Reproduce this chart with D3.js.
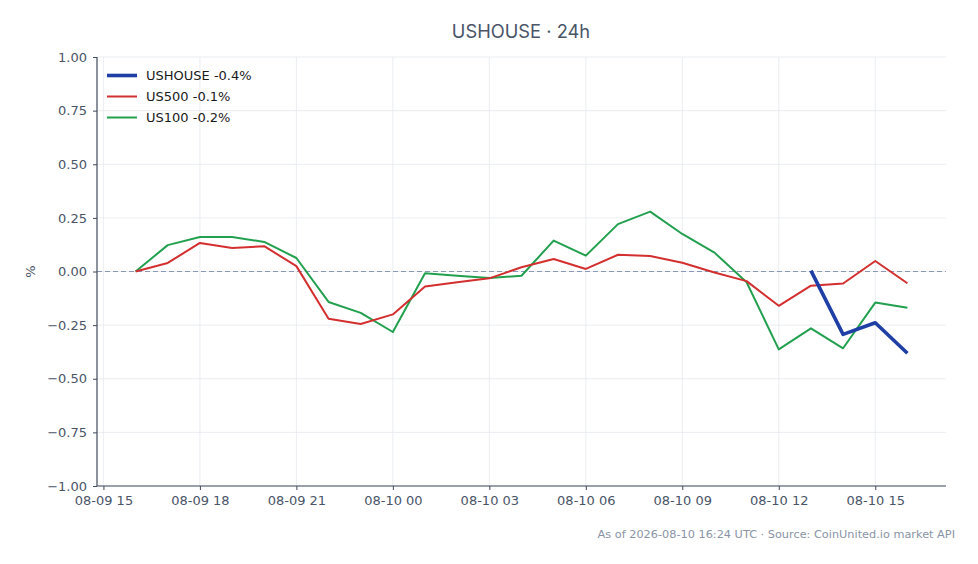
<!DOCTYPE html>
<html>
<head>
<meta charset="utf-8">
<script src="https://cdn.jsdelivr.net/npm/d3@7"></script>
<style>
  body { margin: 0; background: #fff; }
  svg { display: block; font-family: "DejaVu Sans", sans-serif; }
</style>
</head>
<body>
<svg id="chart" width="978" height="564"></svg>
<script>
// hourly points, UTC
const times = [
  "2026-08-09T16:00Z", "2026-08-09T17:00Z", "2026-08-09T18:00Z", "2026-08-09T19:00Z",
  "2026-08-09T20:00Z", "2026-08-09T21:00Z", "2026-08-09T22:00Z", "2026-08-09T23:00Z",
  "2026-08-10T00:00Z", "2026-08-10T01:00Z", "2026-08-10T02:00Z", "2026-08-10T03:00Z",
  "2026-08-10T04:00Z", "2026-08-10T05:00Z", "2026-08-10T06:00Z", "2026-08-10T07:00Z",
  "2026-08-10T08:00Z", "2026-08-10T09:00Z", "2026-08-10T10:00Z", "2026-08-10T11:00Z",
  "2026-08-10T12:00Z", "2026-08-10T13:00Z", "2026-08-10T14:00Z", "2026-08-10T15:00Z",
  "2026-08-10T16:00Z"];

const us500 = [0, 0.04, 0.133, 0.11, 0.118, 0.025, -0.22, -0.245, -0.2, -0.07, -0.05, -0.032,
  0.02, 0.058, 0.012, 0.078, 0.072, 0.041, -0.005, -0.045, -0.16, -0.066, -0.056, 0.049, -0.055];

const us100 = [0, 0.123, 0.161, 0.161, 0.138, 0.063, -0.142, -0.193, -0.282, -0.008, -0.02, -0.03,
  -0.02, 0.144, 0.074, 0.221, 0.279, 0.175, 0.088, -0.05, -0.363, -0.265, -0.358, -0.145, -0.169];

const ushouse = [null, null, null, null, null, null, null, null, null, null, null, null,
  null, null, null, null, null, null, null, null, null, 0.004, -0.293, -0.239, -0.381];

const series = [
  {name: "USHOUSE -0.4%", values: ushouse, color: "#1f3fa6", width: 3.6},
  {name: "US500 -0.1%", values: us500, color: "#d32f2f", width: 2},
  {name: "US100 -0.2%", values: us100, color: "#22a04f", width: 2}
];

const yTicks = [-1, -0.75, -0.5, -0.25, 0, 0.25, 0.5, 0.75, 1];

const dates = times.map(t => new Date(t));
const plotLeft = 97, plotRight = 946, plotTop = 57, plotBottom = 486;

const svg = d3.select("#chart");

// 5% padding on both ends of the time range
const [t0, t1] = d3.extent(dates);
const pad = (t1 - t0) * 0.05;
const x = d3.scaleUtc()
  .domain([new Date(+t0 - pad), new Date(+t1 + pad)])
  .range([plotLeft, plotRight]);

const y = d3.scaleLinear()
  .domain([-1, 1])
  .range([plotBottom, plotTop]);

const xTicks = x.ticks(d3.utcHour.every(3));
const fmtX = d3.utcFormat("%m-%d %H");

// grid
svg.append("g")
  .selectAll("line")
  .data(xTicks)
  .join("line")
    .attr("x1", d => x(d)).attr("x2", d => x(d))
    .attr("y1", plotTop).attr("y2", plotBottom)
    .attr("stroke", "#e6e9ee").attr("stroke-width", 0.8);

svg.append("g")
  .selectAll("line")
  .data(yTicks)
  .join("line")
    .attr("x1", plotLeft).attr("x2", plotRight)
    .attr("y1", d => y(d)).attr("y2", d => y(d))
    .attr("stroke", "#e6e9ee").attr("stroke-width", 0.8);

// zero reference
svg.append("line")
  .attr("x1", plotLeft).attr("x2", plotRight)
  .attr("y1", y(0)).attr("y2", y(0))
  .attr("stroke", "#8a99b8")
  .attr("stroke-width", 1)
  .attr("stroke-dasharray", "5,3");

// axes
const axisColor = "#3f4a5a";
const xAxis = svg.append("g")
  .attr("transform", `translate(0,${plotBottom})`)
  .call(d3.axisBottom(x).tickValues(xTicks).tickFormat(fmtX).tickSize(4).tickPadding(6));

const yAxis = svg.append("g")
  .attr("transform", `translate(${plotLeft},0)`)
  .call(d3.axisLeft(y).tickValues(yTicks).tickFormat(d3.format(".2f")).tickSize(4).tickPadding(6));

[xAxis, yAxis].forEach(a => {
  a.select(".domain").attr("stroke", axisColor).attr("stroke-width", 1.2);
  a.selectAll(".tick line").attr("stroke", axisColor).attr("stroke-width", 1);
  a.selectAll(".tick text").attr("fill", "#4a5568").attr("font-size", 13)
    .attr("font-family", "DejaVu Sans");
});
xAxis.select(".domain").attr("d", `M${plotLeft},0H${plotRight}`);
yAxis.select(".domain").attr("d", `M0,${plotTop}V${plotBottom}`);

// lines
const line = d3.line()
  .defined(d => d[1] != null)
  .x(d => x(d[0]))
  .y(d => y(d[1]));

svg.append("g")
  .selectAll("path")
  .data(series.slice().reverse())
  .join("path")
    .attr("fill", "none")
    .attr("stroke", d => d.color)
    .attr("stroke-width", d => d.width)
    .attr("stroke-linejoin", "round")
    .attr("d", d => line(dates.map((t, i) => [t, d.values[i]])));

// legend
const legend = svg.append("g")
  .selectAll("g")
  .data(series)
  .join("g")
    .attr("transform", (d, i) => `translate(107,${75.5 + i * 21})`);

legend.append("line")
  .attr("x1", 0).attr("x2", 30)
  .attr("stroke", d => d.color)
  .attr("stroke-width", d => d.width);

legend.append("text")
  .attr("x", 39).attr("dy", "0.35em")
  .attr("font-size", 13)
  .attr("fill", "#1a1a1a")
  .text(d => d.name);

// y label
svg.append("text")
  .attr("transform", `translate(35,${y(0)}) rotate(-90)`)
  .attr("text-anchor", "middle")
  .attr("font-size", 13)
  .attr("fill", "#4a5568")
  .text("%");

// title
svg.append("text")
  .attr("x", 521).attr("y", 38)
  .attr("text-anchor", "middle")
  .attr("font-size", 18.3)
  .attr("font-family", "Inter, sans-serif")
  .attr("fill", "#4a5568")
  .text("USHOUSE · 24h");

// footer
svg.append("text")
  .attr("x", 955).attr("y", 538)
  .attr("text-anchor", "end")
  .attr("font-size", 11.3)
  .attr("fill", "#8a94a6")
  .text("As of 2026-08-10 16:24 UTC · Source: CoinUnited.io market API");
</script>
</body>
</html>
